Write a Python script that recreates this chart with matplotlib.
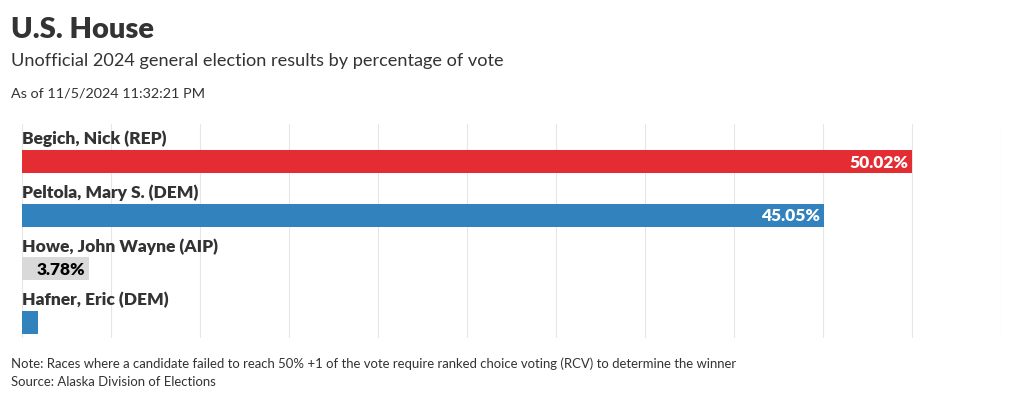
import matplotlib
matplotlib.use("Agg")
import matplotlib.pyplot as plt
from matplotlib.transforms import offset_copy

# Data
CANDIDATES = ["Begich, Nick (REP)", "Peltola, Mary S. (DEM)", "Howe, John Wayne (AIP)", "Hafner, Eric (DEM)"]
PERCENTS = [50.02, 45.05, 3.78, 0.9]
VALUE_LABELS = ["50.02%", "45.05%", "3.78%", ""]
BAR_COLORS = ["#e32d32", "#3182bd", "#d9d9d9", "#3182bd"]
LABEL_COLORS = ["white", "white", "black", "white"]
GRID_TICKS = [0, 5, 10, 15, 20, 25, 30, 35, 40, 45, 50, 55]

TEXT_COLOR = "#333333"
plt.rcParams["font.family"] = ["Lato", "DejaVu Sans"]

W, H = 1020, 401
fig = plt.figure(figsize=(W / 100, H / 100), dpi=100)
ax = fig.add_axes([22 / W, (H - 338) / H, (1001 - 22) / W, (338 - 124) / H])

y = list(range(len(CANDIDATES)))
ax.barh(y, PERCENTS, height=0.43, color=BAR_COLORS, zorder=2)
ax.set_xlim(0, 55)
ax.set_ylim(3.29, -0.70)

for i, (name, pct, lab, lc) in enumerate(zip(CANDIDATES, PERCENTS, VALUE_LABELS, LABEL_COLORS)):
    ax.text(0, i - 0.42, name, ha="left", va="center", fontsize=12.5,
            fontweight="heavy", color=TEXT_COLOR)
    if lab:
        tr = offset_copy(ax.transData, fig=fig, x=-4, y=0, units="dots")
        ax.text(pct, i + 0.02, lab, ha="right", va="center", fontsize=12.5,
                fontweight="heavy", color=lc, transform=tr, zorder=3)

ax.set_xticks(GRID_TICKS)
ax.grid(axis="x", color="#e6e6e6", linewidth=0.8, zorder=0)
ax.tick_params(length=0, labelbottom=False, labelleft=False)
ax.set_yticks([])
for s in ax.spines.values():
    s.set_visible(False)

fig.text(11 / W, 1 - 30 / H, "U.S. House", fontsize=21, fontweight="heavy",
         color=TEXT_COLOR, va="center")
fig.text(11 / W, 1 - 61 / H, "Unofficial 2024 general election results by percentage of vote",
         fontsize=13.1, color=TEXT_COLOR, va="center")
fig.text(11 / W, 1 - 94 / H, "As of 11/5/2024 11:32:21 PM", fontsize=10.4,
         color=TEXT_COLOR, va="center")
fig.text(11 / W, 1 - 364 / H,
         "Note: Races where a candidate failed to reach 50% +1 of the vote require ranked choice voting (RCV) to determine the winner",
         fontsize=9.45, color=TEXT_COLOR, va="center")
fig.text(11 / W, 1 - 382 / H, "Source: Alaska Division of Elections", fontsize=9.45,
         color=TEXT_COLOR, va="center")

fig.savefig("out.png", dpi=100)
